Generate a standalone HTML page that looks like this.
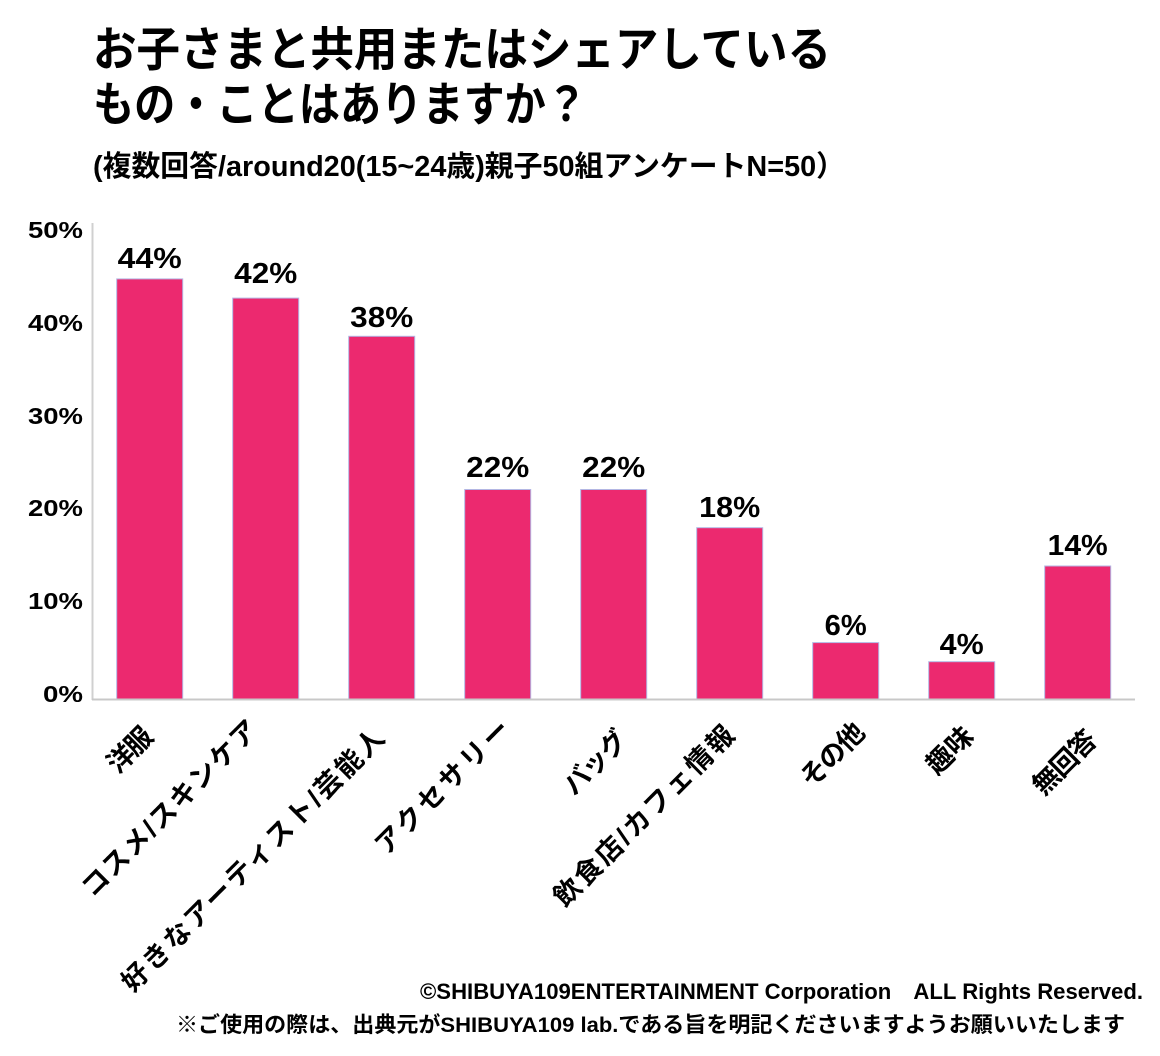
<!DOCTYPE html>
<html>
<head>
<meta charset="utf-8">
<style>
  html, body { margin: 0; padding: 0; background: #ffffff; }
  svg { display: block; }
  text { font-family: "Liberation Sans", "Noto Sans CJK JP", sans-serif; font-weight: 700; fill: #000; }
</style>
</head>
<body>
<svg width="1160" height="1056" viewBox="0 0 1160 1056" xmlns="http://www.w3.org/2000/svg">
  <rect x="0" y="0" width="1160" height="1056" fill="#ffffff"/>

  <!-- Title -->
  <text x="93" y="66" font-size="47" textLength="738" lengthAdjust="spacingAndGlyphs">お子さまと共用またはシェアしている</text>
  <text x="93" y="121" font-size="47" textLength="494" lengthAdjust="spacingAndGlyphs">もの・ことはありますか？</text>
  <text x="93" y="176" font-size="29" textLength="752" lengthAdjust="spacingAndGlyphs">(複数回答/around20(15~24歳)親子50組アンケートN=50）</text>

  <!-- Y axis tick labels -->
  <g font-size="23" text-anchor="end">
    <text x="83" y="238" textLength="55" lengthAdjust="spacingAndGlyphs">50%</text>
    <text x="83" y="331" textLength="55" lengthAdjust="spacingAndGlyphs">40%</text>
    <text x="83" y="424" textLength="55" lengthAdjust="spacingAndGlyphs">30%</text>
    <text x="83" y="516" textLength="55" lengthAdjust="spacingAndGlyphs">20%</text>
    <text x="83" y="609" textLength="55" lengthAdjust="spacingAndGlyphs">10%</text>
    <text x="83" y="702" textLength="40" lengthAdjust="spacingAndGlyphs">0%</text>
  </g>

  <!-- Bars -->
  <g fill="#EC296F" stroke="#b3b6e3" stroke-width="1">
    <rect x="116.7" y="278.9" width="66" height="420.6"/>
    <rect x="232.7" y="298.1" width="66" height="401.4"/>
    <rect x="348.7" y="336.3" width="66" height="363.2"/>
    <rect x="464.7" y="489.5" width="66" height="210.0"/>
    <rect x="580.7" y="489.5" width="66" height="210.0"/>
    <rect x="696.7" y="527.7" width="66" height="171.8"/>
    <rect x="812.7" y="642.6" width="66" height="56.9"/>
    <rect x="928.7" y="661.7" width="66" height="37.8"/>
    <rect x="1044.7" y="566.0" width="66" height="133.5"/>
  </g>

  <!-- Axes -->
  <line x1="92.5" y1="223" x2="92.5" y2="700" stroke="#d0d0d0" stroke-width="2"/>
  <line x1="92" y1="699.5" x2="1135" y2="699.5" stroke="#c8c8c8" stroke-width="2"/>

  <!-- Value labels -->
  <g font-size="29" text-anchor="middle">
    <text x="149.7" y="268" textLength="64" lengthAdjust="spacingAndGlyphs">44%</text>
    <text x="265.7" y="283" textLength="63" lengthAdjust="spacingAndGlyphs">42%</text>
    <text x="381.7" y="327" textLength="63" lengthAdjust="spacingAndGlyphs">38%</text>
    <text x="497.7" y="477" textLength="63" lengthAdjust="spacingAndGlyphs">22%</text>
    <text x="613.7" y="477" textLength="63" lengthAdjust="spacingAndGlyphs">22%</text>
    <text x="729.7" y="517" textLength="61" lengthAdjust="spacingAndGlyphs">18%</text>
    <text x="845.7" y="635" textLength="42" lengthAdjust="spacingAndGlyphs">6%</text>
    <text x="961.7" y="654" textLength="44" lengthAdjust="spacingAndGlyphs">4%</text>
    <text x="1077.7" y="555" textLength="60" lengthAdjust="spacingAndGlyphs">14%</text>
  </g>

  <!-- Category labels (rotated -45) -->
  <g font-size="27">
    <text transform="translate(118.1,774.9) rotate(-45)" textLength="52" lengthAdjust="spacing">洋服</text>
    <text transform="translate(92.7,898.6) rotate(-45)" textLength="236.4" lengthAdjust="spacing">コスメ/スキンケア</text>
    <text transform="translate(132.8,993.2) rotate(-45)" textLength="358.4" lengthAdjust="spacing">好きなアーティスト/芸能人</text>
    <text transform="translate(386.2,856.3) rotate(-45)" textLength="177.6" lengthAdjust="spacing">アクセサリー</text>
    <text transform="translate(574.2,796.6) rotate(-45)" textLength="78" lengthAdjust="spacing">バッグ</text>
    <text transform="translate(564.8,908.2) rotate(-45)" textLength="242.4" lengthAdjust="spacing">飲食店/カフェ情報</text>
    <text transform="translate(811.4,789.1) rotate(-45)" textLength="78" lengthAdjust="spacing">その他</text>
    <text transform="translate(937.3,776.1) rotate(-45)" textLength="54" lengthAdjust="spacing">趣味</text>
    <text transform="translate(1043.6,796.6) rotate(-45)" textLength="78" lengthAdjust="spacing">無回答</text>
  </g>

  <!-- Footer -->
  <text x="420" y="999" font-size="22" textLength="723" lengthAdjust="spacingAndGlyphs">©SHIBUYA109ENTERTAINMENT Corporation　ALL Rights Reserved.</text>
  <text x="176" y="1032" font-size="21.5" textLength="949" lengthAdjust="spacingAndGlyphs">※ご使用の際は、出典元がSHIBUYA109 lab.である旨を明記くださいますようお願いいたします</text>
</svg>
</body>
</html>
